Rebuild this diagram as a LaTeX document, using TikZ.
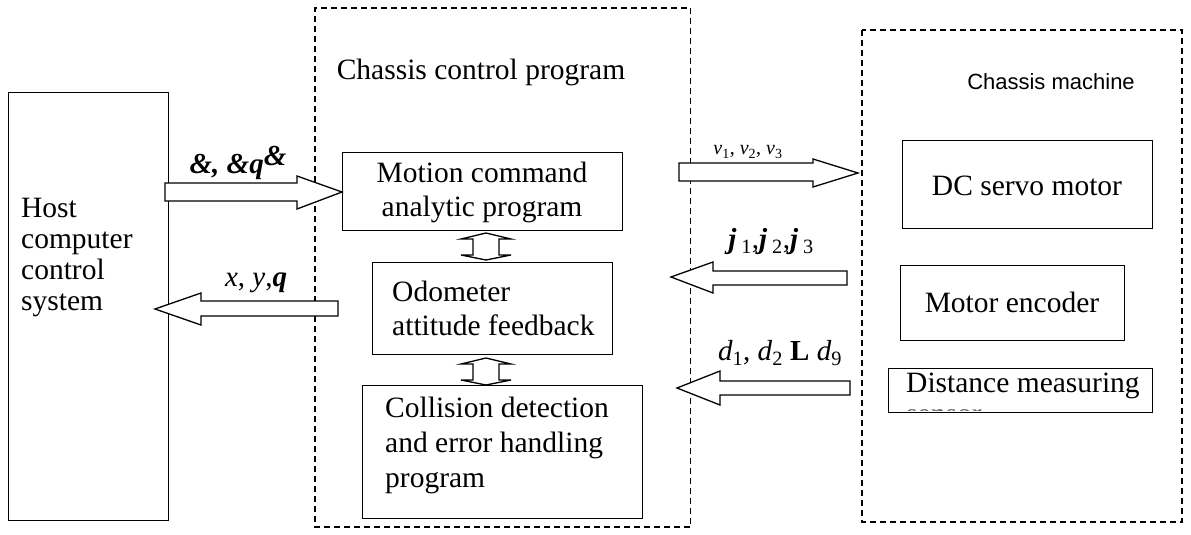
\documentclass[tikz,border=0pt]{standalone}
\usepackage{fontspec}
\setmainfont{Liberation Serif}
\newfontfamily\sansf{Liberation Sans}
\tikzset{
  x=1pt, y=-1pt,
  box/.style={draw, line width=1.3pt, inner sep=0pt, anchor=north west},
  dbox/.style={draw, line width=1.4pt, dash pattern=on 6pt off 4pt},
  txt/.style={font=\fontsize{29.5}{34}\selectfont, inner sep=0pt},
  lbl/.style={font=\fontsize{29}{34}\selectfont, inner sep=0pt},
  barrow/.style={draw, fill=white, line width=1.3pt, line join=miter},
}
\begin{document}
\begin{tikzpicture}
\useasboundingbox (0,0) rectangle (1191,535);
% dashed containers
\draw[dbox] (690,527) -- (315,527) -- (315,8) -- (690,8);
\draw[draw, line width=0.9pt, dash pattern=on 6pt off 4pt] (690,8) -- (690,527);
\draw[dbox] (862,30) rectangle (1182,522);
\node[txt] (cctitle) at (481,72) {Chassis control program};
\node[inner sep=0pt, font=\sansf\fontsize{22}{26}\selectfont] (cmtitle) at (1051,82) {Chassis machine};
% host
\node[box, minimum width=160pt, minimum height=428pt] (host) at (8,92) {};
\node[txt, anchor=west, align=left, font=\fontsize{29.5}{31}\selectfont] (hosttext) at (21,258) {Host\\computer\\control\\system};
% control program boxes
\node[box, minimum width=280pt, minimum height=78pt] (motion) at (342,152) {};
\node[txt, align=center] (motiontext) at (482,192) {Motion command\\analytic program};
\node[box, minimum width=240pt, minimum height=92pt] (odo) at (372,262) {};
\node[txt, anchor=west, align=left] (odotext) at (392,308) {Odometer\\attitude feedback};
\node[box, minimum width=280pt, minimum height=133pt] (coll) at (362,385) {};
\node[txt, anchor=west, align=left, font=\fontsize{29.5}{35}\selectfont] (colltext) at (385,445) {Collision detection\\and error handling\\program};
% machine boxes
\node[box, minimum width=250pt, minimum height=88pt] (dc) at (902,140) {};
\node[txt] (dctext) at (1027,186) {DC servo motor};
\node[box, minimum width=224pt, minimum height=75pt] (enc) at (900,265) {};
\node[txt] (enctext) at (1012,302) {Motor encoder};
\node[box, minimum width=264pt, minimum height=44pt] (dist) at (888,368) {};
\node[txt, anchor=west] (disttext) at (906,386) {Distance measuring};
\begin{scope}
\clip (890,370) rectangle (1150,410.5);
\node[txt, anchor=west, text=black!60] (sensortext) at (906,416.5) {sensor};
\end{scope}
% block arrows
\draw[barrow] (165,183) -- (297,183) -- (297,176) -- (342,192) -- (297,209) -- (297,201) -- (165,201) -- cycle;
\draw[barrow] (338,301) -- (201,301) -- (201,293) -- (155,309) -- (201,325) -- (201,316) -- (338,316) -- cycle;
\draw[barrow] (679,163) -- (813,163) -- (813,159) -- (858,173) -- (813,187) -- (813,181) -- (679,181) -- cycle;
\draw[barrow] (847,271) -- (713,271) -- (713,262) -- (671,277) -- (713,293) -- (713,285) -- (847,285) -- cycle;
\draw[barrow] (850,381) -- (720,381) -- (720,371) -- (677,388) -- (720,405) -- (720,395) -- (850,395) -- cycle;
% double arrows between program boxes
\draw[barrow] (486,233) -- (511,239) -- (499,239) -- (499,255) -- (511,255) -- (486,260) -- (461,255) -- (473,255) -- (473,239) -- (461,239) -- cycle;
\draw[barrow] (486,358) -- (511,364) -- (499,364) -- (499,380) -- (511,380) -- (486,385) -- (461,380) -- (473,380) -- (473,364) -- (461,364) -- cycle;
% labels
\node[lbl] (l1) at (238,163) {\textbf{\textit{\&, \&q}}\raisebox{8pt}{\textbf{\textit{\&}}}};
\node[lbl] (l2) at (256,283) {\textit{x}, \textit{y},\textbf{\textit{q}}};
\node[inner sep=0pt, font=\fontsize{20}{24}\selectfont] (l3) at (748,152) {\textit{v}\textsubscript{1}, \textit{v}\textsubscript{2}, \textit{v}\textsubscript{3}};
\node[lbl] (l4) at (771,242) {\textbf{\textit{j}}\,\textsubscript{1},\textbf{\textit{j}}\,\textsubscript{2},\textbf{\textit{j}}\,\textsubscript{3}};
\node[lbl] (l5) at (780,353) {\textit{d}\textsubscript{1}, \textit{d}\textsubscript{2} \textbf{L} \textit{d}\textsubscript{9}};
\end{tikzpicture}
\end{document}
